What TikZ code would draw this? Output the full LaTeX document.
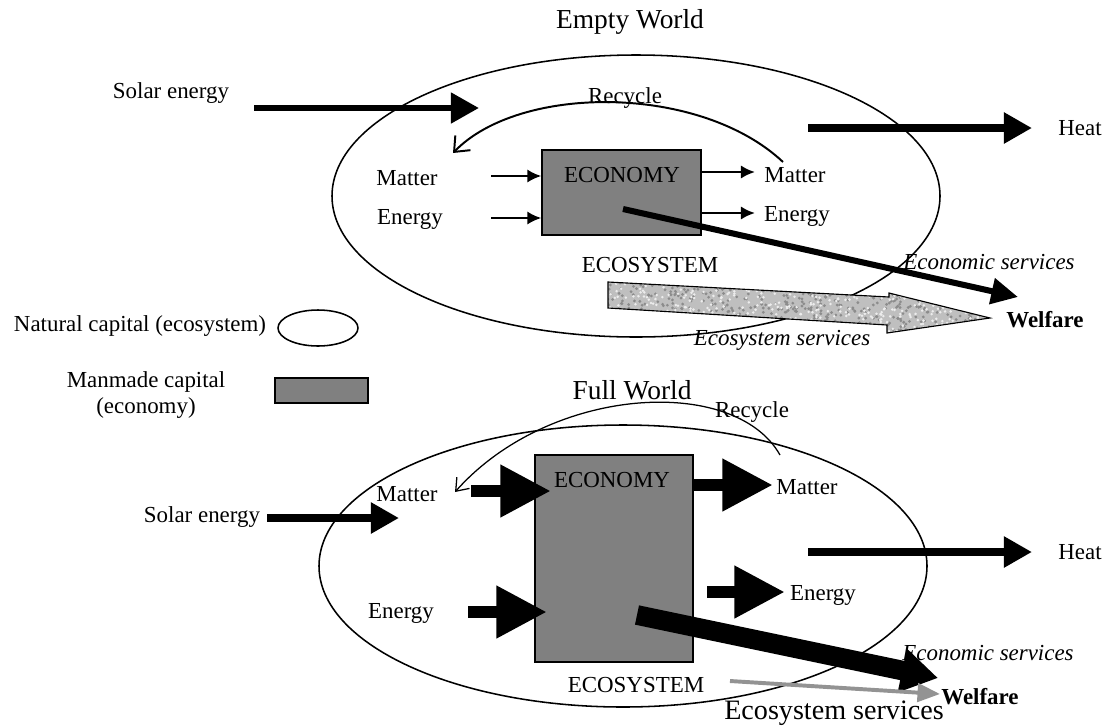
\documentclass[tikz,border=0pt]{standalone}
\usepackage{fontspec}
\setmainfont{Liberation Serif}
\usetikzlibrary{arrows.meta,positioning}

\begin{document}
\begin{tikzpicture}[
    x=0.025cm, y=-0.025cm,
    font=\fontsize{16.3}{18.5}\selectfont,
    title/.style={font=\fontsize{19.5}{23}\selectfont},
    econbox/.style={rectangle, draw, line width=1pt, fill=gray, inner sep=0pt},
    world/.style={line width=1.1pt},
    thinarr/.style={line width=1.8pt, -{Latex[length=10pt, width=9.5pt]}},
    bigarr/.style={line width=4.5pt, -{Triangle[length=20pt, width=21pt]}},
    fatarr/.style={line width=9pt, -{Triangle[length=36pt, width=35pt]}},
    recyc/.style={line width=1.4pt, -{Straight Barb[length=9pt, width=15pt]}}
]
    \useasboundingbox (0,0) rectangle (1111,726);
    \pgfmathsetseed{3}

    % ---- empty world
    \node[title] (tEmpty) at (630,22) {Empty World};
    \draw[world] (636,196) ellipse [x radius=304, y radius=141];
    \node[econbox, minimum width=113pt, minimum height=60.5pt] (eco1) at (621.5,192.5) {};
    \node (eco1lbl) at (622,175) {ECONOMY};
    \node (sun1) at (171,93) {Solar energy};
    \node (rec1) at (625,98) {Recycle};
    \node (mat1L) at (407,178) {Matter};
    \node (ene1L) at (410,219) {Energy};
    \node (mat1R) at (795,175) {Matter};
    \node (ene1R) at (797,216) {Energy};
    \node (heat1) at (1080,128) {Heat};
    \node (ecs1) at (650,265) {ECOSYSTEM};
    \node (esv1) at (989,262) {\textit{Economic services}};
    \node (wel1) at (1045,320) {\textbf{Welfare}};

    \coordinate (sun1a) at (254,108);
    \coordinate (sun1b) at (479,108);
    \coordinate (heat1a) at (808,128);
    \coordinate (heat1b) at (1032,128);
    \coordinate (mat1in) at (491,176);
    \coordinate (ene1in) at (491,218);
    \coordinate (mat1out) at (755,172);
    \coordinate (ene1out) at (755,213);
    \coordinate (rec1a) at (783,162);
    \coordinate (rec1b) at (453,153);
    \coordinate (wel1src) at (623,209);
    \coordinate (wel1tip) at (1018,297);

    \draw[bigarr] (sun1a) -- (sun1b);
    \draw[bigarr, line width=5pt] (heat1a) -- (heat1b);
    \draw[thinarr] (mat1in) -- (mat1in -| eco1.west);
    \draw[thinarr] (ene1in) -- (ene1in -| eco1.west);
    \draw[thinarr] (eco1.east |- mat1out) -- (mat1out);
    \draw[thinarr] (eco1.east |- ene1out) -- (ene1out);
    \draw[recyc] (rec1a) .. controls (700,84) and (520,84) .. (rec1b);

    % grey ecosystem services arrow
    \begin{scope}
        \clip (608,282) -- (889,297) -- (889,293) -- (990,318) -- (887,333) -- (887,325) -- (608,308) -- cycle;
        \fill[gray!50] (600,278) rectangle (995,338);
        \foreach \i in {1,...,700}
            \fill[gray!90] ({600+395*rnd},{278+60*rnd}) circle (1.1pt);
        \foreach \i in {1,...,500}
            \fill[gray!15] ({600+395*rnd},{278+60*rnd}) circle (1pt);
    \end{scope}
    \draw[line width=0.8pt] (608,282) -- (889,297) -- (889,293) -- (990,318) -- (887,333) -- (887,325) -- (608,308) -- cycle;
    \node (esv1b) at (782,340) {\textit{Ecosystem services}};

    \draw[line width=4.3pt, -{Triangle[length=19pt, width=18pt]}] (wel1src) -- (wel1tip);

    % ---- legend
    \node (natcap) at (140,326) {Natural capital (ecosystem)};
    \draw[world] (318,328) ellipse [x radius=40, y radius=18];
    \node[align=center] (mancap) at (146,395) {Manmade capital\\(economy)};
    \node[econbox, minimum width=66.2pt, minimum height=17.8pt] (legbox) at (321.5,390.5) {};

    % ---- full world
    \node[title] (tFull) at (632,390) {Full World};
    \draw[world] (623,566) ellipse [x radius=304, y radius=141];
    \node[econbox, minimum width=112.4pt, minimum height=147.2pt] (eco2) at (614,558.5) {};
    \node (eco2lbl) at (612,480) {ECONOMY};
    \node (sun2) at (202,517) {Solar energy};
    \node (rec2) at (752,412) {Recycle};
    \node (mat2L) at (407,494) {Matter};
    \node (ene2L) at (401,613) {Energy};
    \node (mat2R) at (807,487) {Matter};
    \node (ene2R) at (823,595) {Energy};
    \node (heat2) at (1080,552) {Heat};
    \node (ecs2) at (636,685) {ECOSYSTEM};
    \node (esv2) at (988,653) {\textit{Economic services}};
    \node (wel2) at (980,697) {\textbf{Welfare}};
    \node[font=\fontsize{20}{24}\selectfont, anchor=base, inner sep=0pt] (eco2sv) at (834,719) {Ecosystem services};

    \coordinate (sun2a) at (267,518);
    \coordinate (sun2b) at (399,518);
    \coordinate (mat2in) at (471,491);
    \coordinate (mat2tip) at (551,491);
    \coordinate (ene2in) at (468,612);
    \coordinate (ene2tip) at (547,612);
    \coordinate (mat2out) at (773,485);
    \coordinate (ene2a) at (707,592);
    \coordinate (ene2out) at (785,592);
    \coordinate (heat2a) at (808,552);
    \coordinate (heat2b) at (1032,552);
    \coordinate (rec2a) at (780,455);
    \coordinate (rec2b) at (455,492);
    \coordinate (wel2src) at (637,615);
    \coordinate (wel2tip) at (938,678);
    \coordinate (svc2src) at (730,681);
    \coordinate (svc2tip) at (940,694);

    \draw[bigarr, line width=5pt] (sun2a) -- (sun2b);
    \draw[fatarr] (mat2in) -- (mat2tip);
    \draw[fatarr] (ene2in) -- (ene2tip);
    \draw[fatarr] (eco2.east |- mat2out) -- (mat2out);
    \draw[fatarr] (ene2a) -- (ene2out);
    \draw[bigarr, line width=5pt] (heat2a) -- (heat2b);
    \draw[recyc, line width=0.9pt, -{Straight Barb[length=8pt, width=12pt]}] (rec2a) .. controls (735,375) and (550,385) .. (rec2b);
    \draw[line width=14pt, -{Triangle[length=26pt, width=30pt]}] (wel2src) -- (wel2tip);
    \draw[gray!85, line width=2.8pt, -{Triangle[length=16pt, width=13pt]}] (svc2src) -- (svc2tip);
\end{tikzpicture}
\end{document}
